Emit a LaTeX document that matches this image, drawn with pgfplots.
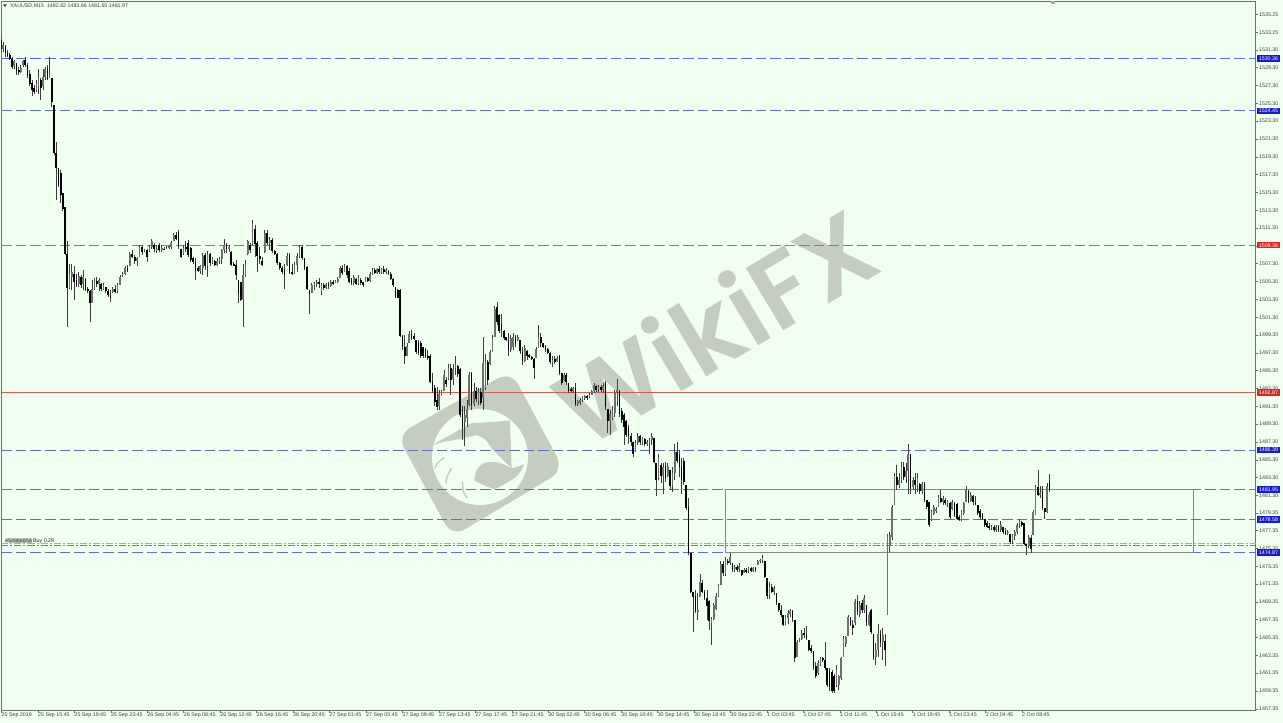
\documentclass[border=0pt]{standalone}
\usepackage{pgfplots}
\usepackage{pgfplotstable}
\usepackage{fontspec}
\pgfplotsset{compat=1.18}
\setmainfont{Liberation Sans}
\newfontfamily\wmfont{Poppins SemiBold}
\definecolor{bg}{HTML}{F0FFF0}
\definecolor{wm}{HTML}{C4CDC0}
\definecolor{frame}{HTML}{66756A}
\definecolor{lvlblue}{HTML}{5F6CCB}
\definecolor{lvlred}{HTML}{D85C5C}
\definecolor{boxblue}{HTML}{1A1AD2}
\definecolor{boxred}{HTML}{DC2626}
\definecolor{wick}{HTML}{3C3C3C}
\definecolor{upbody}{HTML}{6E6E6E}
\definecolor{ordorange}{HTML}{D8A25E}
\definecolor{ordgreen}{HTML}{4F9A4F}
\definecolor{rectgrey}{HTML}{7F8A80}
\pgfplotstableread{
h l o c
1532.8 1531.1 1532.4 1531.4
1532.2 1531.1 1531.4 1531.9
1531.9 1530.5 1531.7 1530.9
1531.3 1530.5 1531.0 1530.6
1530.9 1530.2 1530.7 1530.3
1530.5 1529.2 1530.3 1529.4
1530.2 1529.2 1529.5 1530.0
1529.8 1528.5 1529.8 1528.9
1529.4 1528.5 1529.0 1528.8
1529.6 1528.7 1528.8 1529.3
1530.2 1529.4 1529.6 1530.0
1530.5 1529.4 1530.2 1529.6
1529.8 1528.1 1529.6 1528.4
1529.0 1527.2 1528.6 1527.5
1527.9 1526.1 1527.6 1526.8
1527.4 1526.4 1527.0 1526.6
1527.9 1526.6 1526.8 1527.5
1529.2 1526.4 1527.3 1528.2
1528.1 1525.7 1527.9 1527.0
1529.2 1526.8 1527.2 1528.3
1529.4 1527.9 1528.2 1529.2
1529.6 1527.9 1529.3 1528.0
1530.5 1528.1 1528.2 1528.6
1528.1 1524.9 1528.1 1525.4
1525.1 1519.5 1525.1 1519.7
1521.0 1514.5 1519.7 1518.0
1518.0 1515.9 1518.0 1516.2
1517.8 1514.1 1517.5 1515.0
1515.2 1513.2 1515.2 1513.4
1513.7 1508.3 1513.7 1508.4
1509.8 1500.2 1508.4 1504.6
1507.3 1504.5 1504.6 1506.2
1507.3 1504.3 1505.8 1506.4
1507.0 1503.2 1506.2 1505.2
1506.2 1504.7 1505.5 1505.0
1506.4 1504.7 1505.0 1505.9
1506.0 1504.6 1505.8 1504.9
1506.6 1504.3 1505.0 1505.8
1505.7 1504.2 1505.6 1504.4
1504.7 1504.0 1504.5 1504.2
1504.3 1500.8 1504.2 1502.9
1505.5 1502.9 1502.9 1504.5
1505.7 1504.3 1504.5 1505.4
1505.8 1504.7 1505.4 1505.0
1505.7 1504.2 1505.0 1505.5
1505.1 1504.2 1505.0 1504.5
1505.1 1504.3 1504.5 1504.9
1504.7 1504.0 1504.7 1504.2
1504.5 1503.6 1504.2 1503.8
1504.3 1503.0 1503.8 1503.5
1504.7 1504.0 1504.1 1504.5
1504.9 1504.0 1504.5 1504.1
1505.1 1504.0 1504.2 1504.9
1506.0 1504.9 1504.9 1505.8
1506.4 1505.8 1505.9 1506.2
1507.0 1506.0 1506.1 1506.8
1507.2 1506.4 1506.8 1506.5
1508.6 1507.0 1507.0 1508.4
1508.8 1507.9 1508.4 1508.1
1508.3 1507.3 1508.1 1507.6
1508.1 1507.0 1507.6 1507.9
1509.4 1508.1 1508.1 1509.2
1509.4 1508.3 1509.2 1508.6
1509.0 1508.6 1508.7 1508.8
1509.0 1507.5 1508.8 1508.0
1509.4 1508.6 1508.7 1509.2
1510.1 1509.0 1509.2 1509.8
1509.6 1508.6 1509.4 1508.9
1509.4 1508.5 1508.9 1509.0
1509.6 1508.6 1509.4 1508.8
1509.4 1508.6 1508.8 1509.1
1509.2 1508.8 1509.0 1508.9
1509.3 1508.9 1508.9 1509.1
1509.4 1509.0 1509.1 1509.3
1509.8 1509.0 1509.2 1509.6
1510.7 1509.8 1509.8 1510.5
1510.9 1510.0 1510.5 1510.1
1511.1 1509.0 1510.9 1509.2
1509.0 1507.9 1509.0 1508.1
1509.4 1508.3 1508.4 1509.1
1509.8 1508.6 1509.2 1509.0
1510.0 1508.1 1509.6 1508.3
1509.2 1507.5 1509.1 1507.7
1508.1 1507.3 1507.9 1507.5
1507.9 1505.5 1507.5 1506.5
1507.0 1506.4 1506.8 1506.5
1507.2 1506.2 1506.5 1507.0
1508.5 1506.0 1506.8 1508.2
1508.5 1506.6 1508.3 1507.0
1508.7 1505.8 1507.0 1508.4
1508.5 1507.0 1508.4 1507.4
1508.1 1507.3 1507.4 1507.9
1507.7 1507.0 1507.6 1507.2
1507.9 1507.0 1507.2 1507.6
1508.1 1507.3 1507.6 1507.8
1509.0 1507.3 1507.8 1508.8
1510.1 1508.5 1508.8 1509.4
1509.6 1508.5 1509.4 1508.9
1509.4 1508.6 1508.9 1509.2
1508.7 1507.0 1508.6 1507.2
1507.5 1507.0 1507.3 1507.1
1507.7 1505.5 1507.2 1506.0
1505.5 1502.9 1505.5 1504.0
1505.3 1503.1 1505.3 1503.2
1507.3 1500.2 1503.3 1506.0
1507.7 1505.8 1506.0 1507.2
1510.0 1508.3 1508.4 1509.8
1509.6 1508.5 1509.4 1508.8
1512.2 1509.4 1509.5 1511.8
1511.6 1508.1 1511.2 1509.5
1509.8 1506.4 1509.6 1508.2
1509.2 1507.3 1508.2 1507.8
1508.1 1507.0 1507.6 1507.2
1511.1 1508.5 1508.6 1510.8
1511.1 1509.4 1510.8 1509.6
1510.3 1508.8 1509.6 1510.0
1510.2 1508.5 1510.0 1508.7
1508.8 1508.3 1508.7 1508.4
1508.5 1507.2 1508.4 1507.4
1507.5 1506.6 1507.4 1506.8
1507.0 1506.2 1506.8 1506.4
1507.3 1504.5 1506.6 1506.0
1508.5 1507.0 1507.2 1508.2
1508.5 1506.2 1508.2 1506.5
1507.3 1506.0 1506.4 1506.2
1507.5 1506.2 1506.3 1507.2
1508.5 1506.4 1507.2 1508.2
1509.4 1507.9 1508.2 1509.2
1509.4 1507.7 1509.2 1507.9
1507.9 1506.6 1507.9 1506.8
1507.0 1504.3 1506.9 1504.5
1504.3 1501.7 1504.4 1503.9
1505.1 1504.0 1504.0 1504.9
1505.3 1504.3 1504.9 1505.0
1505.5 1504.7 1505.0 1505.3
1505.7 1504.6 1505.3 1505.0
}\tone
\pgfplotstableread{
h l o c
1505.1 1503.8 1504.2 1504.9
1505.1 1504.4 1504.9 1504.6
1505.1 1504.5 1504.6 1505.0
1505.3 1504.5 1505.0 1504.8
1505.5 1504.7 1504.8 1505.3
1505.5 1504.9 1505.3 1505.0
1505.5 1505.1 1505.1 1505.4
1505.8 1505.1 1505.3 1505.6
1507.0 1505.7 1505.7 1506.8
1507.2 1506.0 1506.8 1506.3
1507.3 1506.4 1506.4 1507.0
1507.2 1505.7 1507.0 1506.0
1506.8 1505.1 1506.5 1505.3
1505.7 1504.9 1505.6 1505.1
1506.0 1504.9 1505.1 1505.8
1505.7 1504.9 1505.6 1505.0
1506.0 1504.9 1505.0 1505.7
1505.7 1504.9 1505.5 1505.1
1505.3 1504.7 1505.2 1504.9
1505.8 1505.3 1505.3 1505.7
1505.8 1505.3 1505.7 1505.4
1506.4 1505.3 1505.4 1506.2
1506.8 1506.0 1506.2 1506.6
1506.8 1506.1 1506.6 1506.3
1506.8 1506.2 1506.3 1506.7
1507.0 1506.2 1506.7 1506.4
1506.8 1506.2 1506.4 1506.7
1507.0 1506.2 1506.7 1506.4
1506.8 1506.1 1506.4 1506.6
1506.6 1506.0 1506.5 1506.1
1506.4 1505.5 1506.2 1505.6
1505.7 1504.7 1505.6 1504.9
1504.7 1503.4 1504.7 1503.5
1504.5 1503.4 1504.4 1503.5
1504.5 1499.1 1504.4 1499.2
1499.3 1497.6 1499.2 1498.0
1499.3 1496.1 1498.0 1497.0
1498.4 1496.9 1497.0 1498.1
1499.7 1498.4 1498.4 1499.4
1499.9 1498.7 1499.4 1499.0
1499.5 1498.7 1499.2 1498.8
1498.7 1497.2 1498.7 1497.4
1498.7 1497.1 1498.5 1497.3
1498.6 1496.7 1498.4 1497.0
1498.0 1496.7 1497.9 1496.9
1497.8 1496.7 1497.7 1496.9
1497.6 1496.5 1497.0 1496.7
1497.2 1493.9 1497.0 1494.0
1495.0 1492.8 1494.0 1493.0
1493.7 1491.3 1493.3 1491.8
1493.5 1490.9 1492.0 1491.2
1493.1 1490.9 1491.3 1492.7
1493.1 1492.4 1492.5 1493.0
1495.4 1493.0 1493.0 1494.8
1494.6 1493.5 1494.2 1493.8
1496.0 1494.2 1494.4 1495.6
1496.0 1492.6 1495.6 1494.2
1496.0 1493.7 1494.4 1495.5
1496.9 1494.8 1495.6 1496.0
1495.9 1494.6 1495.8 1494.9
1495.6 1490.1 1495.5 1490.3
1491.3 1487.5 1490.6 1489.0
1491.3 1486.8 1489.5 1490.3
1492.0 1489.0 1490.0 1491.0
1495.2 1491.3 1491.5 1494.8
1495.2 1490.9 1495.0 1491.4
1493.9 1491.3 1491.6 1493.0
1493.5 1491.8 1493.0 1492.1
1493.3 1491.4 1491.9 1492.9
1493.3 1491.4 1492.9 1491.7
1499.1 1490.9 1492.2 1496.2
1497.2 1493.1 1493.4 1496.3
1496.5 1493.7 1496.3 1494.2
1497.6 1495.9 1496.0 1497.4
1499.3 1497.4 1497.4 1499.0
1502.5 1499.1 1499.1 1502.2
1503.0 1500.4 1502.4 1500.8
1501.7 1499.5 1501.5 1499.8
1501.7 1499.1 1500.5 1499.9
1499.9 1498.7 1499.8 1499.0
1499.1 1498.6 1499.1 1498.7
1499.5 1496.9 1498.7 1497.6
1499.3 1497.4 1497.6 1499.0
1499.5 1497.6 1497.9 1499.1
1499.3 1498.0 1499.1 1498.3
1499.3 1498.6 1498.7 1499.1
1498.7 1497.2 1498.7 1497.5
1498.0 1495.9 1497.5 1496.4
1498.2 1496.3 1496.4 1497.8
1497.6 1496.5 1497.5 1497.0
1497.2 1496.7 1497.1 1496.8
1496.9 1496.5 1496.8 1496.6
1496.7 1494.4 1496.6 1495.6
1498.0 1496.7 1496.7 1497.7
1500.4 1497.8 1497.8 1499.1
1499.5 1498.0 1499.1 1498.4
1498.4 1497.8 1498.4 1497.9
1498.2 1497.4 1498.1 1497.6
1497.8 1497.2 1497.7 1497.3
1497.4 1496.1 1497.3 1496.3
1496.9 1495.7 1496.3 1496.5
1496.9 1496.1 1496.6 1496.3
1496.9 1496.3 1496.4 1496.7
1497.1 1494.8 1497.0 1495.0
1495.0 1493.7 1495.0 1493.9
1495.0 1494.1 1494.2 1494.8
1495.0 1493.7 1494.8 1494.0
1493.9 1492.8 1493.9 1493.0
1493.5 1492.8 1493.2 1493.0
1493.5 1492.8 1493.0 1493.3
1493.9 1491.3 1493.3 1491.6
1492.0 1491.3 1491.6 1491.9
1492.2 1491.4 1491.7 1492.0
1492.4 1491.8 1492.0 1492.3
1492.6 1492.0 1492.2 1492.5
1492.6 1492.0 1492.5 1492.2
1492.8 1492.2 1492.3 1492.6
1493.1 1492.6 1492.6 1493.0
1493.9 1492.8 1493.0 1493.7
1493.7 1492.9 1493.6 1493.1
1493.7 1492.9 1493.2 1493.5
1493.7 1492.9 1493.5 1493.1
1493.9 1492.8 1493.1 1493.6
1494.1 1490.9 1493.9 1491.2
1490.9 1488.3 1491.0 1489.6
1490.9 1488.1 1489.6 1490.4
1491.3 1489.8 1490.0 1490.9
1493.1 1490.1 1490.6 1492.9
1494.4 1491.3 1492.9 1493.1
1493.1 1490.1 1493.0 1490.4
1491.1 1489.4 1490.8 1489.8
1490.5 1487.0 1490.3 1489.0
1489.8 1487.9 1489.6 1488.1
1489.2 1487.1 1488.9 1488.0
1488.3 1486.8 1488.0 1487.3
1487.3 1485.6 1487.3 1486.0
1487.5 1486.2 1486.2 1487.2
1488.3 1487.0 1487.2 1488.0
1488.1 1487.0 1488.0 1487.3
1487.9 1487.0 1487.3 1487.7
1487.7 1486.8 1487.6 1487.1
1487.5 1486.8 1487.1 1487.3
1487.7 1486.0 1487.3 1487.4
1488.3 1487.0 1487.5 1488.0
1487.7 1484.9 1487.7 1485.0
1484.9 1481.2 1484.9 1483.0
1486.0 1483.0 1483.2 1485.5
1484.9 1482.7 1484.7 1483.5
1484.9 1481.5 1483.5 1484.5
1485.1 1482.8 1484.6 1483.2
1484.9 1483.4 1483.5 1484.5
1484.1 1481.9 1484.1 1482.3
1484.5 1481.7 1482.4 1483.8
1487.1 1483.0 1483.8 1486.2
1487.3 1484.9 1486.2 1485.2
1486.4 1483.4 1485.8 1484.5
}\ttwo
\pgfplotstableread{
h l o c
1485.5 1481.5 1484.5 1483.0
1485.5 1482.5 1485.2 1482.8
1482.5 1479.7 1482.5 1479.9
1481.0 1474.6 1480.0 1474.8
1474.8 1470.3 1474.8 1470.5
1470.5 1466.0 1470.5 1469.9
1470.7 1468.1 1470.0 1468.3
1470.3 1467.3 1468.2 1468.4
1472.5 1469.9 1469.9 1471.6
1471.8 1470.3 1471.5 1470.5
1470.7 1469.6 1470.5 1469.8
1470.7 1467.3 1469.8 1468.9
1469.6 1466.2 1469.5 1467.2
1467.7 1464.5 1467.0 1467.4
1469.2 1467.3 1467.4 1469.0
1470.3 1468.4 1468.6 1470.0
1471.4 1469.9 1470.0 1471.2
1473.9 1471.2 1471.3 1473.6
1473.9 1472.2 1473.6 1472.6
1474.4 1472.2 1472.5 1473.9
1474.2 1473.5 1473.9 1473.7
1474.8 1473.5 1473.7 1474.4
1473.7 1472.7 1473.7 1472.9
1473.5 1472.7 1473.0 1473.3
1473.5 1472.7 1473.3 1472.9
1473.7 1472.7 1473.0 1473.4
1472.9 1472.2 1472.9 1472.4
1473.1 1472.6 1472.6 1472.9
1473.1 1472.6 1472.9 1472.7
1473.3 1472.6 1472.8 1473.1
1473.3 1472.7 1473.1 1472.8
1473.3 1472.7 1472.8 1473.1
1473.3 1472.7 1473.1 1472.9
1474.0 1473.5 1473.5 1473.9
1474.2 1473.7 1473.9 1474.0
1474.6 1473.7 1474.0 1474.3
1473.9 1472.0 1473.9 1472.1
1472.0 1469.7 1472.0 1470.0
1471.6 1469.7 1470.1 1471.0
1471.4 1470.3 1471.0 1470.5
1471.1 1470.1 1470.5 1470.9
1470.3 1469.0 1470.3 1469.2
1469.2 1468.2 1469.2 1468.4
1469.0 1467.7 1468.4 1467.9
1467.9 1466.6 1467.9 1466.8
1467.9 1466.8 1466.9 1467.6
1468.4 1466.9 1467.5 1468.1
1468.6 1467.7 1468.0 1468.3
1468.4 1467.1 1468.3 1467.4
1467.3 1462.6 1467.3 1463.0
1465.1 1463.2 1463.2 1464.9
1465.3 1464.9 1465.0 1465.2
1466.2 1465.1 1465.2 1465.9
1466.4 1465.3 1465.9 1465.6
1466.6 1465.1 1465.6 1465.3
1465.1 1463.8 1465.1 1464.0
1464.5 1463.6 1464.2 1463.8
1463.8 1461.7 1463.8 1462.0
1462.6 1460.8 1462.2 1461.0
1462.8 1461.1 1461.4 1462.5
1463.2 1462.1 1462.5 1463.0
1463.2 1462.6 1463.0 1462.8
1464.9 1461.7 1462.8 1461.9
1461.9 1459.8 1461.9 1460.0
1461.9 1459.3 1461.6 1459.8
1461.7 1459.1 1461.5 1459.3
1461.3 1459.1 1461.0 1459.4
1462.3 1459.8 1460.0 1461.7
1461.1 1459.5 1460.0 1461.0
1463.2 1460.6 1460.8 1463.0
1465.5 1463.2 1463.2 1465.2
1465.5 1464.3 1464.6 1465.4
1467.9 1465.5 1465.5 1467.7
1467.7 1466.6 1467.7 1466.8
1467.3 1465.6 1466.8 1466.4
1469.7 1466.8 1467.0 1469.4
1470.1 1467.9 1469.4 1468.2
1469.4 1467.7 1468.0 1469.0
1469.6 1468.1 1469.2 1468.4
1470.1 1468.1 1468.4 1469.8
1469.0 1466.6 1469.0 1467.0
1468.2 1466.6 1466.8 1467.9
1468.6 1465.8 1468.4 1466.0
1465.8 1462.8 1465.8 1463.2
1464.7 1462.3 1463.2 1463.9
1466.9 1463.2 1464.0 1465.8
1466.2 1464.3 1465.8 1464.8
1466.4 1462.8 1464.8 1465.6
1465.8 1462.1 1465.0 1464.0
1477.0 1467.9 1467.9 1476.9
1477.2 1475.0 1475.6 1476.9
1480.2 1476.3 1476.6 1480.0
1483.8 1480.2 1480.2 1483.5
1484.7 1481.9 1483.4 1482.5
1483.8 1482.1 1482.5 1483.0
1485.1 1482.7 1483.0 1484.5
1485.1 1483.0 1484.5 1483.4
1484.9 1482.7 1483.4 1484.0
1487.1 1481.5 1484.0 1486.0
1486.0 1481.5 1486.0 1482.0
1483.4 1481.9 1482.2 1483.0
1483.8 1481.5 1483.0 1482.5
1483.8 1481.7 1482.5 1483.2
1482.7 1481.5 1482.6 1481.8
1482.8 1481.5 1481.8 1482.6
1482.8 1480.6 1482.6 1480.8
1480.8 1479.8 1480.8 1480.0
1480.6 1477.8 1480.6 1478.0
1479.7 1478.4 1478.5 1479.4
1480.2 1479.1 1479.2 1480.0
1480.0 1479.3 1479.6 1479.8
1481.3 1480.0 1480.0 1481.1
1481.9 1480.4 1481.0 1480.6
1481.2 1480.2 1480.6 1480.9
1481.0 1480.2 1480.8 1480.4
1480.8 1480.0 1480.4 1480.7
1480.6 1478.7 1480.5 1478.9
1480.8 1479.7 1479.8 1480.6
1480.6 1478.9 1480.5 1479.1
1480.4 1478.5 1480.3 1478.7
1479.1 1478.4 1478.9 1478.5
1479.7 1478.4 1478.5 1479.4
1480.6 1479.1 1479.3 1480.4
1482.3 1480.6 1480.6 1482.0
1481.9 1480.4 1481.8 1480.6
1481.7 1480.6 1480.7 1481.4
1481.3 1480.2 1481.2 1480.6
1481.2 1480.2 1480.5 1480.4
1480.2 1479.1 1480.2 1479.3
1479.8 1478.7 1479.6 1478.9
1479.3 1478.5 1479.2 1478.7
1478.7 1477.8 1478.7 1478.0
1478.4 1477.6 1478.2 1477.7
1478.2 1477.4 1477.9 1477.6
1478.0 1477.4 1477.6 1477.8
1478.0 1477.2 1477.8 1477.4
1478.0 1477.2 1477.4 1477.8
1478.0 1477.2 1477.8 1477.4
1478.4 1477.2 1477.4 1478.0
1477.8 1477.0 1477.8 1477.2
1477.6 1476.9 1477.3 1477.0
1477.4 1476.9 1477.1 1477.2
1477.0 1475.9 1477.0 1476.1
1477.0 1475.9 1476.1 1476.8
1477.4 1476.3 1476.7 1477.2
1478.2 1477.0 1477.2 1478.0
1478.7 1477.6 1478.0 1478.4
1478.4 1477.8 1478.3 1478.0
1478.2 1475.7 1478.2 1475.9
1475.9 1474.6 1475.9 1475.6
1476.9 1475.4 1475.6 1476.6
1476.9 1474.8 1476.5 1475.3
1479.7 1476.9 1476.9 1479.4
1482.5 1479.1 1479.1 1482.2
1484.2 1481.2 1482.2 1481.4
1482.3 1481.0 1481.4 1481.6
1482.3 1479.7 1481.8 1479.9
1479.9 1478.7 1479.9 1479.4
1482.7 1479.3 1479.4 1482.4
1483.66 1481.65 1482.82 1481.97
}\tthree
\def\xone{((\coordindex<=30?3+6.63*\coordindex:(\coordindex<=50?202+6.8*(\coordindex-30):(\coordindex<=70?338+7.35*(\coordindex-50):(\coordindex<=90?485+7.25*(\coordindex-70):(\coordindex<=110?630+7.1*(\coordindex-90):772+7.44*(\coordindex-110))))))/3-1.5)/2.278}
\def\xtwo{140.5+\coordindex*1.0135}
\def\xthree{298.5+\coordindex*1.016}
\newcommand\candles[2]{%
 \addplot[draw=none,mark=none,forget plot,error bars/.cd,y dir=plus,y explicit,error mark=none,error bar style={line width=.8pt,color=wick}]
  table[x expr=#2,y=l,y error plus expr=\thisrow{h}-\thisrow{l}]{#1};
 \addplot[draw=none,mark=none,forget plot,error bars/.cd,y dir=plus,y explicit,error mark=none,error bar style={line width=1.7pt,color=upbody}]
  table[x expr=#2,y=o,y error plus expr={max(\thisrow{c}-\thisrow{o},0)}]{#1};
 \addplot[draw=none,mark=none,forget plot,error bars/.cd,y dir=minus,y explicit,error mark=none,error bar style={line width=1.7pt,color=black}]
  table[x expr=#2,y=o,y error minus expr={max(\thisrow{o}-\thisrow{c},0)}]{#1};
}
\newcommand\level[3]{\addplot[forget plot,color=#2,line width=1pt,#3] coordinates {(0,#1) (550.7,#1)};}
\begin{document}
\begin{tikzpicture}
\useasboundingbox (0,0) rectangle (1283pt,723pt);
\fill[bg] (0,0) rectangle (1283pt,723pt);
\begin{scope}[shift={(0,723pt)},x=1pt,y=-1pt]
 % WikiFX watermark
 \node[rotate=31,text=wm,inner sep=0pt] at (714,325) {\wmfont\fontsize{104}{104}\selectfont WikiFX};
 \fill[wm,rounded corners=15pt] (397,435) -- (511,371) -- (564,470) -- (452,537) -- cycle;
 \fill[bg] (480,457) circle (48);
 \begin{scope}[shift={(395,370)},x=.3333pt,y=-.3333pt]
  \fill[wm] (112,225) -- (228,160) -- (345,152) -- (350,295) -- (292,238) .. controls (270,205) .. (245,195) -- (205,205) -- (150,215) -- cycle;
  \fill[wm] (238,332) .. controls (240,280) and (280,255) .. (350,295) -- (388,283) .. controls (370,320) .. (300,358) -- (275,350) -- cycle;
  \draw[wm,line width=1.3pt] (120,295) .. controls (125,280) .. (148,262);
  \draw[wm,line width=1.5pt] (153,340) .. controls (155,320) .. (170,295);
  \draw[wm,line width=1.5pt] (218,385) .. controls (205,370) .. (202,335);
 \end{scope}
\end{scope}
\begin{axis}[
 at={(1.5pt,12.5pt)},anchor=south west,
 scale only axis,width=1254.5pt,height=709pt,
 xmin=0,xmax=550.7,ymin=1457.16,ymax=1536.73,
 axis line style={frame,line width=1pt},
 tick style={frame,line width=.5pt},
 tick align=outside,major tick length=2.5pt,
 xtick pos=bottom,ytick pos=right,
 xtick={0,16,...,448},
 xticklabels={25 Sep 2019,25 Sep 15:45,25 Sep 19:45,25 Sep 23:45,26 Sep 04:45,26 Sep 08:45,26 Sep 12:45,26 Sep 16:45,26 Sep 20:45,27 Sep 01:45,27 Sep 05:45,27 Sep 09:45,27 Sep 13:45,27 Sep 17:45,27 Sep 21:45,30 Sep 02:45,30 Sep 06:45,30 Sep 10:45,30 Sep 14:45,30 Sep 18:45,30 Sep 22:45,1 Oct 03:45,1 Oct 07:45,1 Oct 11:45,1 Oct 15:45,1 Oct 19:45,1 Oct 23:45,2 Oct 04:45,2 Oct 08:45},
 xticklabel style={anchor=north west,inner sep=0pt,font=\fontsize{5.3}{6}\selectfont,text=black!75},
 ytick={1535.25,1533.25,1531.30,1529.30,1527.30,1525.30,1523.30,1521.30,1519.30,1517.30,1515.30,1513.30,1511.30,1509.30,1507.30,1505.30,1503.30,1501.30,1499.30,1497.30,1495.30,1493.30,1491.30,1489.30,1487.30,1485.30,1483.30,1481.30,1479.35,1477.35,1475.35,1473.35,1471.35,1469.35,1467.35,1465.35,1463.35,1461.35,1459.35,1457.35},
 yticklabel style={anchor=west,inner sep=0pt,xshift=.5pt,font=\fontsize{5.3}{6}\selectfont,text=black!75,
  /pgf/number format/.cd,fixed,fixed zerofill,precision=2,1000 sep={},assume math mode=true},
 clip=true,
]
 \level{1530.36}{lvlblue}{dash pattern=on 10.5pt off 4pt}
 \level{1524.45}{lvlblue}{dash pattern=on 10.5pt off 4pt}
 \level{1486.39}{lvlblue}{dash pattern=on 10.5pt off 4pt}
 \level{1481.95}{lvlblue}{dash pattern=on 10.5pt off 4pt}
 \level{1478.58}{lvlblue}{dash pattern=on 10.5pt off 4pt}
 \level{1474.87}{lvlblue}{dash pattern=on 10.5pt off 4pt}
 \level{1509.38}{lvlred}{dash pattern=on 10.5pt off 4pt}
 \level{1492.87}{lvlred}{solid}
 \addplot[forget plot,color=ordorange,line width=.8pt,dash pattern=on 7pt off 2pt on 2pt off 2pt] coordinates {(0,1475.92) (550.7,1475.92)};
 \addplot[forget plot,color=ordgreen,line width=.8pt,dash pattern=on 7pt off 2pt on 2pt off 2pt] coordinates {(0,1475.65) (550.7,1475.65)};
 \addplot[forget plot,color=rectgrey,line width=1.3pt] coordinates {(317.8,1481.95) (523.3,1481.95) (523.3,1474.87) (317.8,1474.87) (317.8,1481.95)};
 \candles{\tone}{\xone}
 \candles{\ttwo}{\xtwo}
 \candles{\tthree}{\xthree}
 \coordinate (b1) at (axis cs:550.7,1530.36);
 \coordinate (b2) at (axis cs:550.7,1524.45);
 \coordinate (b3) at (axis cs:550.7,1509.38);
 \coordinate (b4) at (axis cs:550.7,1492.87);
 \coordinate (b5) at (axis cs:550.7,1486.39);
 \coordinate (b6) at (axis cs:550.7,1481.95);
 \coordinate (b7) at (axis cs:550.7,1478.58);
 \coordinate (b8) at (axis cs:550.7,1474.87);
\end{axis}
\tikzset{lab/.style={anchor=west,inner sep=0pt,minimum width=23.5pt,minimum height=6.5pt,text=white,font=\fontsize{5.3}{6}\selectfont,xshift=.5pt}}
\node[lab,fill=boxblue] at (b1) {1530.36};
\node[lab,fill=boxblue] at (b2) {1524.45};
\node[lab,fill=boxred] at (b3) {1509.38};
\node[lab,fill=boxred] at (b4) {1492.87};
\node[lab,fill=boxblue] at (b5) {1486.39};
\node[lab,fill=boxblue] at (b6) {1481.95};
\node[lab,fill=boxblue] at (b7) {1478.58};
\node[lab,fill=boxblue] at (b8) {1474.87};
\begin{scope}[shift={(0,723pt)},x=1pt,y=-1pt]
 \fill[black!80] (3,4.3) -- (7,4.3) -- (5,7) -- cycle;
 \node[anchor=west,inner sep=0pt,text=black!75,font=\fontsize{5.3}{6}\selectfont] at (10,5.6) {XAUUSD,M15\ \ 1482.82 1483.66 1481.65 1481.97};
 \node[anchor=west,inner sep=0pt,text=black!85,font=\fontsize{5.3}{6}\selectfont] at (5,541.5) {\#58888858 Buy 0.29};
 \node[anchor=west,inner sep=0pt,text=black!60,font=\fontsize{5.3}{6}\selectfont] at (5.5,542) {\#60886858};
 \fill[black!35] (1051,1) rectangle (1055,4);
\end{scope}
\end{tikzpicture}
\end{document}
